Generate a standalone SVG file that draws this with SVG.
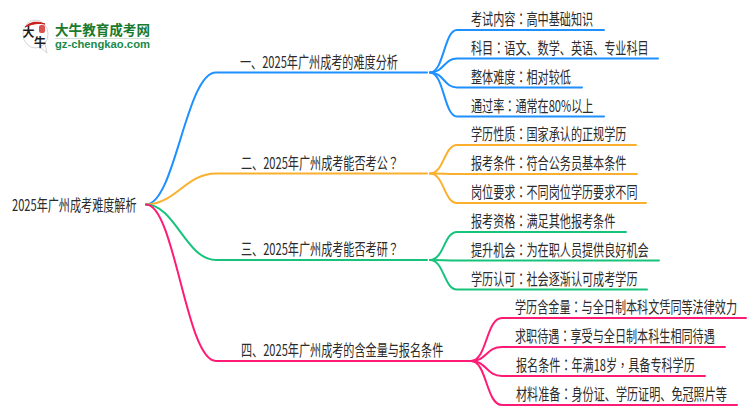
<svg xmlns="http://www.w3.org/2000/svg" width="750" height="410" viewBox="0 0 750 410">
<style>
text{font-family:"Noto Sans CJK SC","Liberation Sans",sans-serif;font-size:16px;fill:#2b2b2b}
tspan{font-family:"Noto Sans CJK TC","Noto Sans CJK SC",sans-serif}
.c{fill:none;stroke-width:2;stroke-linecap:round}
.b{stroke:#1e90ff}.o{stroke:#fbb02d}.g{stroke:#17c37b}.p{stroke:#ff1a75}
</style>
<rect width="750" height="410" fill="#fff"/>
<g id="logo">
<ellipse cx="35.500" cy="34" rx="12.500" ry="14" fill="#fff" stroke="#d5d5d5"/>
<path d="M25 27Q33 19 45 24Q35 22 25 27Z" fill="#c8201e" stroke="#c8201e"/>
<rect x="39" y="25" width="6" height="8" rx="2" fill="#d9534f"/>
<path d="M40 47L47 53L45 44Z" fill="#fff" stroke="#d5d5d5"/>
<text transform="translate(22.500,37)" style="font-size:12px;fill:#1c1c1c;font-weight:700">大</text>
<text transform="translate(34,47)" style="font-size:12px;fill:#1c1c1c;font-weight:700">牛</text>
<text transform="translate(55,35) scale(.97,1)" style="font-size:14px;font-weight:700;fill:#1a7a2e">大牛教育成考网</text>
<line x1="55" y1="38.500" x2="150" y2="38.500" stroke="#cfe3d4"/>
<text x="55" y="48" textLength="95" lengthAdjust="spacingAndGlyphs" style="font-family:'Liberation Sans',sans-serif;font-size:11px;font-weight:700;fill:#1a8a4a">gz-chengkao.com</text>
</g>
<g id="connectors">
<path class="c b" d="M146 204.500C175 204.500 186 72.500 216 72.500H427"/>
<path class="c o" d="M146 204.500C175 204.500 186 173.500 216 173.500H427"/>
<path class="c g" d="M146 204.500C175 204.500 186 260 216 260H427"/>
<path class="c p" d="M146 204.500C175 204.500 186 361 216 361H471"/>
<path class="c b" d="M430 72.500C444 72.500 444 30 457 30H604"/>
<path class="c b" d="M430 72.500C444 72.500 444 58.500 457 58.500H658"/>
<path class="c b" d="M430 72.500C444 72.500 444 87.500 457 87.500H582"/>
<path class="c b" d="M430 72.500C444 72.500 444 116.500 457 116.500H604"/>
<path class="c o" d="M430 173.500C444 173.500 444 145 457 145H636"/>
<path class="c o" d="M430 173.500C444 173.500 444 174 457 174H637"/>
<path class="c o" d="M430 173.500C444 173.500 444 203 457 203H646"/>
<path class="c g" d="M430 260C444 260 444 232 457 232H626"/>
<path class="c g" d="M430 260C444 260 444 260.500 457 260.500H659"/>
<path class="c g" d="M430 260C444 260 444 289.500 457 289.500H647"/>
<path class="c p" d="M471 361C487 361 486 318 502 318H746"/>
<path class="c p" d="M471 361C487 361 486 347 502 347H725"/>
<path class="c p" d="M471 361C487 361 486 376 502 376H705"/>
<path class="c p" d="M471 361C487 361 486 405 502 405H737"/>
</g>
<g id="root"><text transform="translate(12,211) scale(.694,1)">2025年广州成考难度解析</text></g>
<g id="n1"><text transform="translate(240,67.500) scale(.694,1)">一、2025年广州成考的难度分析</text></g>
<g id="n2"><text transform="translate(241,168.500) scale(.694,1)">二、2025年广州成考能否考公<tspan>？</tspan></text></g>
<g id="n3"><text transform="translate(241,255) scale(.694,1)">三、2025年广州成考能否考研<tspan>？</tspan></text></g>
<g id="n4"><text transform="translate(241,356) scale(.694,1)">四、2025年广州成考的含金量与报名条件</text></g>
<g id="l1"><text transform="translate(471,24.500) scale(.694,1)">考试内容<tspan>：</tspan>高中基础知识</text></g>
<g id="l2"><text transform="translate(471,53.500) scale(.694,1)">科目<tspan>：</tspan>语文、数学、英语、专业科目</text></g>
<g id="l3"><text transform="translate(471,82.500) scale(.694,1)">整体难度<tspan>：</tspan>相对较低</text></g>
<g id="l4"><text transform="translate(471,111.500) scale(.694,1)">通过率<tspan>：</tspan>通常在80%以上</text></g>
<g id="l5"><text transform="translate(471,140) scale(.694,1)">学历性质<tspan>：</tspan>国家承认的正规学历</text></g>
<g id="l6"><text transform="translate(471,169) scale(.694,1)">报考条件<tspan>：</tspan>符合公务员基本条件</text></g>
<g id="l7"><text transform="translate(471,197.500) scale(.694,1)">岗位要求<tspan>：</tspan>不同岗位学历要求不同</text></g>
<g id="l8"><text transform="translate(471,226.500) scale(.694,1)">报考资格<tspan>：</tspan>满足其他报考条件</text></g>
<g id="l9"><text transform="translate(471,255.500) scale(.694,1)">提升机会<tspan>：</tspan>为在职人员提供良好机会</text></g>
<g id="l10"><text transform="translate(471,284.500) scale(.694,1)">学历认可<tspan>：</tspan>社会逐渐认可成考学历</text></g>
<g id="l11"><text transform="translate(515,313) scale(.694,1)">学历含金量<tspan>：</tspan>与全日制本科文凭同等法律效力</text></g>
<g id="l12"><text transform="translate(515,342) scale(.694,1)">求职待遇<tspan>：</tspan>享受与全日制本科生相同待遇</text></g>
<g id="l13"><text transform="translate(516,371) scale(.694,1)">报名条件<tspan>：</tspan>年满18岁<tspan>，</tspan>具备专科学历</text></g>
<g id="l14"><text transform="translate(516,400) scale(.694,1)">材料准备<tspan>：</tspan>身份证、学历证明、免冠照片等</text></g>
</svg>
